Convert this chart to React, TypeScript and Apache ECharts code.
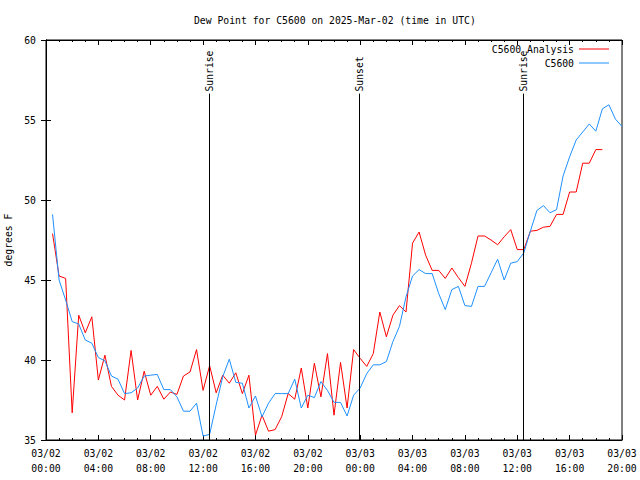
import React, { useEffect, useRef } from "react";
import * as echarts from "echarts";

// Hours since 03/02 00:00 UTC; samples every 30 minutes starting at 00:30
const SAMPLE_START = 0.5;
const SAMPLE_STEP = 0.5;

const analysisValues = [
  47.9, 45.25, 45.1, 36.7, 42.8, 41.7, 42.7, 38.75, 40.3, 38.35,
  37.8, 37.5, 40.6, 37.5, 39.3, 37.8, 38.35, 37.55, 38.0, 37.85,
  39.0, 39.25, 40.65, 38.1, 39.65, 37.95, 39.05, 38.55, 39.2, 37.9,
  39.05, 35.3, 36.55, 35.55, 35.65, 36.45, 37.9, 37.55, 39.5, 37.0,
  39.8, 37.7, 40.4, 36.55, 39.85, 37.0, 40.65, 40.1, 39.6, 40.4,
  43.0, 41.45, 42.8, 43.4, 43.0, 47.3, 48.0, 46.55, 45.6, 45.6,
  45.1, 45.75, 45.15, 44.6, 46.05, 47.75, 47.75, 47.5, 47.2, 47.7,
  48.15, 46.9, 46.9, 48.05, 48.1, 48.3, 48.35, 49.1, 49.1, 50.5,
  50.5, 52.3, 52.3, 53.15, 53.15,
];

const stationValues = [
  49.1, 45.0, 43.75, 42.4, 42.25, 41.25, 41.05, 40.15, 39.95, 39.0,
  38.8, 37.9, 37.95, 38.25, 39.0, 39.05, 39.1, 38.15, 38.15, 37.7,
  36.8, 36.8, 37.3, 35.25, 35.35, 37.2, 38.95, 40.05, 38.6, 38.55,
  37.0, 37.75, 36.45, 37.3, 37.9, 37.9, 37.9, 38.8, 37.0, 37.8,
  37.65, 38.65, 38.1, 37.35, 37.35, 36.5, 37.8, 38.25, 39.15, 39.7,
  39.7, 39.9, 41.15, 42.1, 43.95, 45.25, 45.65, 45.4, 45.4, 44.15,
  43.15, 44.4, 44.6, 43.4, 43.35, 44.6, 44.6, 45.45, 46.3, 45.0,
  46.05, 46.15, 46.7, 48.05, 49.35, 49.65, 49.2, 49.4, 51.5, 52.7,
  53.75, 54.25, 54.75, 54.3, 55.7, 55.95, 55.05, 54.6,
];

const markerTimes = [12.47, 23.93, 36.46];
const markerLabels = ["Sunrise", "Sunset", "Sunrise"];
const MARKER_TOP = 56.65;

const seriesNames = ["C5600 Analysis", "C5600"];
const seriesColors = ["#ff0000", "#1e90ff"];

const X_MIN = 0;
const X_MAX = 44;
const X_INTERVAL = 4;
const Y_MIN = 35;
const Y_MAX = 60;
const Y_INTERVAL = 5;

const TITLE = "Dew Point for C5600 on 2025-Mar-02 (time in UTC)";
const Y_NAME = "degrees F";

const FONT = "DejaVu Sans Mono";
const FS = 9.75;

function pad2(n: number) {
  return n < 10 ? "0" + n : String(n);
}

function xLabel(v: number) {
  const day = 2 + Math.floor(v / 24);
  const h = Math.round(v % 24);
  return "03/" + pad2(day) + "\n" + pad2(h) + ":00";
}

function toPairs(values: number[]) {
  return values.map((v, i) => [SAMPLE_START + i * SAMPLE_STEP, v]);
}

export default function App() {
  const ref = useRef<HTMLDivElement>(null);

  useEffect(() => {
    if (!ref.current) return;
    const chart = echarts.init(ref.current, null, { renderer: "svg" });

    const textStyle = { fontFamily: FONT, fontSize: FS, color: "#000" };

    const xCommon = {
      type: "value" as const,
      min: X_MIN,
      max: X_MAX,
      interval: X_INTERVAL,
      axisLine: { show: true, lineStyle: { color: "#000", width: 1 } },
      axisTick: { show: true, inside: true, length: 5, lineStyle: { color: "#000" } },
      minorTick: { show: true, splitNumber: 4, length: 2, lineStyle: { color: "#000" } },
      splitLine: { show: false },
      minorSplitLine: { show: false },
    };
    const yCommon = {
      type: "value" as const,
      min: Y_MIN,
      max: Y_MAX,
      interval: Y_INTERVAL,
      axisLine: { show: true, lineStyle: { color: "#000", width: 1 } },
      axisTick: { show: true, inside: true, length: 5, lineStyle: { color: "#000" } },
      splitLine: { show: false },
    };

    chart.setOption({
      animation: false,
      backgroundColor: "#fff",
      title: {
        text: TITLE,
        left: 189,
        top: 10,
        textStyle: { ...textStyle, fontWeight: "normal" },
      },
      legend: {
        data: seriesNames,
        orient: "vertical",
        align: "right",
        right: 26,
        top: 39,
        icon: "rect",
        itemWidth: 30,
        itemHeight: 1,
        itemGap: 4,
        textStyle: { ...textStyle },
      },
      grid: {
        left: 46,
        right: 18,
        top: 40,
        bottom: 40,
        outerBoundsMode: "none",
        containLabel: false,
        show: true,
        borderColor: "#000",
        borderWidth: 1,
        backgroundColor: "transparent",
      },
      xAxis: [
        {
          ...xCommon,
          position: "bottom",
          axisLabel: {
            ...textStyle,
            margin: 6,
            lineHeight: 15,
            showMinLabel: true,
            showMaxLabel: true,
            formatter: (v: number) => xLabel(v),
          },
        },
        {
          ...xCommon,
          position: "top",
          axisLabel: { show: false },
        },
      ],
      yAxis: [
        {
          ...yCommon,
          position: "left",
          name: Y_NAME,
          nameLocation: "middle",
          nameGap: 31,
          nameRotate: 90,
          nameTextStyle: { ...textStyle },
          axisLabel: { ...textStyle, margin: 10 },
        },
        {
          ...yCommon,
          position: "right",
          axisLabel: { show: false },
        },
      ],
      series: [
        {
          name: seriesNames[0],
          type: "line",
          data: toPairs(analysisValues),
          symbol: "none",
          color: seriesColors[0],
          lineStyle: { width: 1, color: seriesColors[0] },
          z: 3,
        },
        {
          name: seriesNames[1],
          type: "line",
          data: toPairs(stationValues),
          symbol: "none",
          color: seriesColors[1],
          lineStyle: { width: 1, color: seriesColors[1] },
          z: 4,
        },
        {
          name: "markers",
          type: "custom",
          clip: false,
          data: markerTimes.map((t) => [t, Y_MIN]),
          encode: { x: 0, y: 1 },
          z: 5,
          renderItem: (params: any, api: any) => {
            const t = api.value(0);
            const base = api.coord([t, Y_MIN]);
            const top = api.coord([t, MARKER_TOP]);
            const x = Math.round(base[0]) + 0.5;
            return {
              type: "group",
              children: [
                {
                  type: "line",
                  shape: { x1: x, y1: base[1], x2: x, y2: top[1] },
                  style: { stroke: "#000", lineWidth: 1 },
                },
                {
                  type: "text",
                  x: x,
                  y: top[1] - 2,
                  rotation: Math.PI / 2,
                  style: {
                    text: markerLabels[params.dataIndex],
                    align: "left",
                    verticalAlign: "middle",
                    fontFamily: FONT,
                    fontSize: FS,
                    fill: "#000",
                  },
                },
              ],
            };
          },
        },
      ],
    });

    return () => {
      chart.dispose();
    };
  }, []);

  return (
    <div
      ref={ref}
      style={{ position: "fixed", left: 0, top: 0, width: 640, height: 480 }}
    />
  );
}
